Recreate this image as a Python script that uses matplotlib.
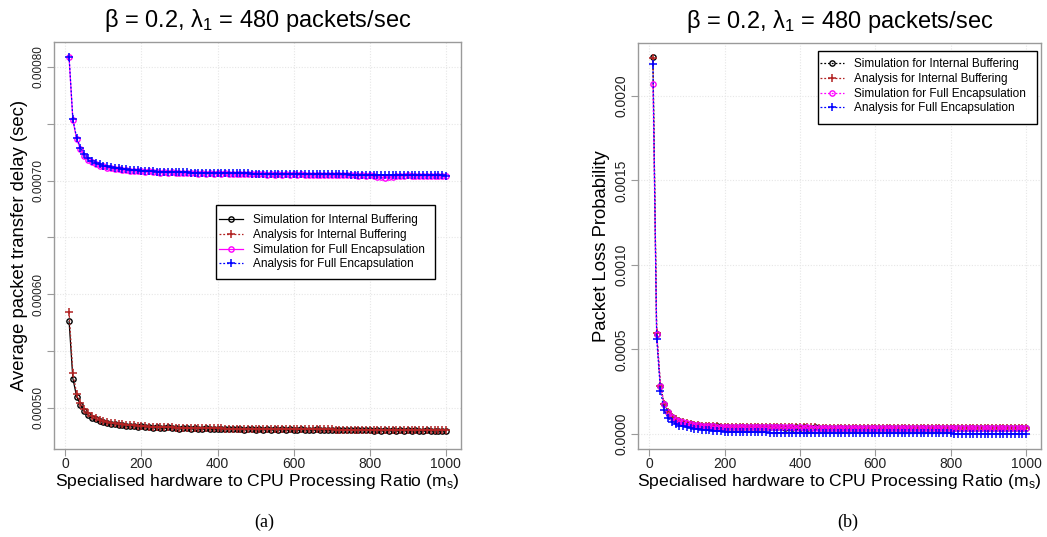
import numpy as np
import matplotlib
matplotlib.use("Agg")
import matplotlib.pyplot as plt
from matplotlib.ticker import FixedLocator, FuncFormatter
from matplotlib.patches import Rectangle

plt.rcParams['font.family'] = ['Liberation Sans', 'DejaVu Sans']
plt.rcParams['mathtext.fontset'] = 'custom'
plt.rcParams['mathtext.rm'] = 'Liberation Sans'
plt.rcParams['mathtext.it'] = 'Liberation Sans'

# ---------------- data ----------------
ratio = np.arange(10, 1001, 10)

title_text = "β = 0.2, $\\mathregular{λ_1}$ = 480 packets/sec"
xlabel_text = "Specialised hardware to CPU Processing Ratio ($\\mathregular{m_s}$)"
series_labels = ["Simulation for Internal Buffering", "Analysis for Internal Buffering",
                 "Simulation for Full Encapsulation", "Analysis for Full Encapsulation"]

# Panel (a): average packet transfer delay, microseconds
delay_sim_ib = [
    576.0, 525.5, 509.5, 502.5, 497.0, 493.5, 491.0, 489.5, 488.0, 487.5,
    486.0, 485.5, 485.8, 484.5, 485.0, 483.5, 484.0, 483.8, 483.0, 483.5,
    482.8, 483.2, 482.0, 482.9, 482.3, 481.8, 482.6, 482.0, 482.4, 481.5,
    482.0, 481.6, 481.2, 481.9, 481.4, 481.0, 481.7, 481.3, 480.9, 481.5,
    481.0, 481.4, 480.7, 481.2, 480.9, 481.3, 480.6, 481.0, 480.8, 480.4,
    481.1, 480.6, 480.9, 480.3, 480.8, 480.5, 480.9, 480.2, 480.7, 480.5,
    480.2, 480.8, 480.4, 480.6, 480.1, 480.7, 480.3, 480.5, 480.0, 480.6,
    480.4, 480.0, 480.5, 480.2, 479.9, 480.4, 480.1, 480.3, 479.8, 480.2,
    479.6, 480.0, 479.5, 480.1, 479.7, 479.9, 479.4, 480.0, 479.6, 479.8,
    479.5, 479.9, 479.6, 479.3, 479.8, 479.5, 479.7, 479.4, 479.6, 479.5]
delay_ana_ib = [
    584.0, 530.5, 512.0, 504.0, 498.5, 495.0, 492.5, 490.5, 489.2, 488.2,
    487.4, 486.7, 486.1, 485.6, 485.2, 484.8, 484.5, 484.2, 483.9, 483.7,
    483.5, 483.3, 483.1, 483.0, 482.8, 482.7, 482.6, 482.5, 482.4, 482.3,
    482.2, 482.1, 482.0, 481.95, 481.9, 481.85, 481.8, 481.75, 481.7, 481.65,
    481.6, 481.55, 481.5, 481.45, 481.4, 481.4, 481.35, 481.3, 481.3, 481.25,
    481.2, 481.2, 481.15, 481.1, 481.1, 481.05, 481.0, 481.0, 480.95, 480.9,
    480.9, 480.9, 480.85, 480.8, 480.8, 480.8, 480.75, 480.7, 480.7, 480.7,
    480.65, 480.6, 480.6, 480.6, 480.55, 480.5, 480.5, 480.5, 480.5, 480.45,
    480.4, 480.4, 480.4, 480.4, 480.35, 480.3, 480.3, 480.3, 480.3, 480.25,
    480.2, 480.2, 480.2, 480.2, 480.15, 480.1, 480.1, 480.1, 480.1, 480.0]
delay_sim_fe = [
    808.5, 753.0, 736.5, 727.5, 722.0, 718.5, 716.0, 714.5, 713.0, 712.5,
    711.2, 711.0, 710.2, 709.9, 709.3, 709.2, 708.6, 708.7, 708.0, 708.3,
    707.6, 708.0, 707.3, 707.6, 707.0, 707.4, 706.8, 707.2, 706.6, 707.0,
    706.4, 706.9, 706.2, 706.7, 706.1, 706.6, 706.0, 706.5, 705.9, 706.3,
    705.8, 706.2, 705.6, 706.1, 705.5, 706.0, 705.4, 705.9, 705.3, 705.8,
    705.3, 705.7, 705.2, 705.6, 705.1, 705.5, 705.0, 705.4, 705.0, 705.3,
    704.9, 705.3, 704.8, 705.2, 704.8, 705.1, 704.7, 705.1, 704.7, 705.0,
    704.6, 705.0, 704.5, 704.9, 704.5, 704.8, 704.4, 704.7, 704.4, 704.6,
    704.0, 703.2, 702.8, 702.6, 702.9, 703.4, 704.0, 704.3, 704.2, 704.5,
    704.1, 704.4, 704.0, 704.3, 704.0, 704.2, 703.9, 704.2, 703.9, 704.1]
delay_ana_fe = [
    809.0, 754.0, 737.5, 729.0, 723.5, 720.0, 717.5, 715.6, 714.2, 713.2,
    712.4, 711.7, 711.1, 710.6, 710.2, 709.8, 709.5, 709.2, 708.9, 708.7,
    708.5, 708.3, 708.1, 707.9, 707.8, 707.7, 707.6, 707.5, 707.4, 707.3,
    707.2, 707.1, 707.0, 706.9, 706.9, 706.8, 706.7, 706.7, 706.6, 706.6,
    706.5, 706.5, 706.4, 706.4, 706.3, 706.3, 706.2, 706.2, 706.1, 706.1,
    706.0, 706.0, 706.0, 705.9, 705.9, 705.9, 705.8, 705.8, 705.8, 705.7,
    705.7, 705.7, 705.6, 705.6, 705.6, 705.5, 705.5, 705.5, 705.4, 705.4,
    705.4, 705.3, 705.3, 705.3, 705.2, 705.2, 705.2, 705.1, 705.1, 705.1,
    705.0, 705.0, 705.0, 704.9, 704.9, 704.9, 704.8, 704.8, 704.8, 704.7,
    704.7, 704.7, 704.6, 704.6, 704.6, 704.5, 704.5, 704.5, 704.5, 704.4]

# Panel (b): packet loss probability, units of 1e-4
loss_sim_ib = [
    22.30, 5.94, 2.82, 1.76, 1.29, 1.01, 0.85, 0.74, 0.67, 0.61,
    0.57, 0.55, 0.51, 0.50, 0.47, 0.47, 0.45, 0.45, 0.43, 0.44,
    0.43, 0.42, 0.42, 0.41, 0.42, 0.40, 0.41, 0.40, 0.41, 0.39,
    0.40, 0.39, 0.40, 0.39, 0.40, 0.38, 0.39, 0.38, 0.39, 0.38,
    0.39, 0.38, 0.38, 0.39, 0.37, 0.38, 0.38, 0.37, 0.38, 0.37,
    0.38, 0.37, 0.38, 0.37, 0.38, 0.37, 0.37, 0.38, 0.37, 0.36,
    0.37, 0.37, 0.36, 0.37, 0.37, 0.36, 0.37, 0.36, 0.37, 0.36,
    0.37, 0.36, 0.36, 0.37, 0.36, 0.36, 0.37, 0.36, 0.36, 0.35,
    0.36, 0.36, 0.35, 0.36, 0.36, 0.35, 0.36, 0.35, 0.36, 0.35,
    0.36, 0.35, 0.35, 0.36, 0.35, 0.35, 0.36, 0.35, 0.35, 0.35]
loss_ana_ib = [
    22.25, 5.95, 2.86, 1.78, 1.30, 1.02, 0.86, 0.75, 0.68, 0.62,
    0.58, 0.55, 0.52, 0.50, 0.48, 0.47, 0.46, 0.45, 0.44, 0.44,
    0.43, 0.43, 0.42, 0.42, 0.42, 0.41, 0.41, 0.41, 0.41, 0.40,
    0.40, 0.40, 0.40, 0.40, 0.40, 0.39, 0.39, 0.39, 0.39, 0.39,
    0.39, 0.39, 0.39, 0.39, 0.38, 0.38, 0.38, 0.38, 0.38, 0.38,
    0.38, 0.38, 0.38, 0.38, 0.38, 0.38, 0.38, 0.38, 0.38, 0.38,
    0.38, 0.38, 0.38, 0.38, 0.38, 0.37, 0.37, 0.37, 0.37, 0.37,
    0.37, 0.37, 0.37, 0.37, 0.37, 0.37, 0.37, 0.37, 0.37, 0.37,
    0.37, 0.37, 0.37, 0.37, 0.37, 0.37, 0.37, 0.37, 0.37, 0.37,
    0.37, 0.37, 0.37, 0.37, 0.37, 0.37, 0.37, 0.37, 0.37, 0.37]
loss_sim_fe = [
    20.70, 5.92, 2.83, 1.76, 1.28, 1.00, 0.85, 0.75, 0.68, 0.62,
    0.58, 0.54, 0.52, 0.49, 0.48, 0.46, 0.46, 0.44, 0.44, 0.43,
    0.43, 0.42, 0.42, 0.41, 0.41, 0.41, 0.40, 0.41, 0.40, 0.40,
    0.40, 0.40, 0.39, 0.40, 0.39, 0.39, 0.39, 0.39, 0.38, 0.39,
    0.38, 0.39, 0.38, 0.38, 0.38, 0.38, 0.38, 0.38, 0.37, 0.38,
    0.38, 0.37, 0.38, 0.37, 0.38, 0.37, 0.38, 0.37, 0.37, 0.37,
    0.37, 0.37, 0.37, 0.37, 0.36, 0.37, 0.37, 0.36, 0.37, 0.37,
    0.36, 0.37, 0.37, 0.36, 0.37, 0.36, 0.36, 0.37, 0.36, 0.36,
    0.36, 0.36, 0.36, 0.35, 0.36, 0.36, 0.35, 0.36, 0.36, 0.35,
    0.36, 0.35, 0.36, 0.35, 0.36, 0.35, 0.35, 0.36, 0.35, 0.35]
loss_ana_fe = [
    21.90, 5.60, 2.53, 1.42, 0.94, 0.70, 0.58, 0.50, 0.45, 0.40,
    0.36, 0.32, 0.29, 0.26, 0.23, 0.21, 0.19, 0.17, 0.15, 0.14,
    0.13, 0.12, 0.12, 0.11, 0.11, 0.10, 0.10, 0.10, 0.09, 0.09,
    0.09, 0.08, 0.08, 0.08, 0.08, 0.07, 0.07, 0.07, 0.07, 0.06,
    0.06, 0.06, 0.06, 0.06, 0.06, 0.05, 0.05, 0.05, 0.05, 0.05,
    0.05, 0.05, 0.05, 0.05, 0.05, 0.04, 0.04, 0.04, 0.04, 0.04,
    0.04, 0.04, 0.04, 0.04, 0.04, 0.03, 0.03, 0.03, 0.03, 0.03,
    0.03, 0.03, 0.03, 0.03, 0.03, 0.03, 0.03, 0.03, 0.03, 0.03,
    0.02, 0.02, 0.02, 0.02, 0.02, 0.02, 0.02, 0.02, 0.02, 0.02,
    0.02, 0.02, 0.02, 0.02, 0.02, 0.01, 0.01, 0.01, 0.01, 0.01]

delay_yticks = [0.00050, 0.00055, 0.00060, 0.00065, 0.00070, 0.00075, 0.00080]
loss_yticks = [0.0000, 0.0005, 0.0010, 0.0015, 0.0020]
xticks = [0, 200, 400, 600, 800, 1000]

# ---------------- styling ----------------
C_BLACK, C_RED, C_MAG, C_BLUE = "black", "#B22222", "#FF00FF", "#0000FF"
AX_GRAY = "#9a9a9a"
GRID_C = "#e6e6e6"

W, H = 1047, 537
fig = plt.figure(figsize=(W / 100, H / 100), dpi=100)


def box(l, t, r, b):
    return [l / W, 1 - b / H, (r - l) / W, (b - t) / H]


def style_axes(ax, xlim, ylim, yticks, yfmt, ysize, labeled):
    ax.set_xlim(*xlim)
    ax.set_ylim(*ylim)
    for s in ax.spines.values():
        s.set_color(AX_GRAY)
        s.set_linewidth(1.0)
    ax.xaxis.set_major_locator(FixedLocator(xticks))
    ax.yaxis.set_major_locator(FixedLocator(yticks))
    ax.yaxis.set_major_formatter(FuncFormatter(
        lambda v, p: (yfmt % v) if labeled(v) else ""))
    ax.tick_params(axis='both', colors=AX_GRAY, length=5, width=0.8,
                   labelcolor="#222222")
    ax.tick_params(axis='x', labelsize=10, pad=1)
    ax.tick_params(axis='y', labelsize=ysize, pad=2, labelrotation=90)
    for t in ax.get_yticklabels():
        t.set_va('center')
    ax.grid(True, color=GRID_C, linestyle=(0, (1, 1.5)), linewidth=0.8)
    ax.set_axisbelow(True)


def framed_legend(ax, handle_x, row_top, frame):
    leg = ax.legend(loc='upper left', bbox_to_anchor=(handle_x / W, 1 - row_top / H),
                    bbox_transform=fig.transFigure, fontsize=8.5, frameon=False,
                    handlelength=2.05, labelspacing=0.24, borderpad=0.0,
                    handletextpad=0.85, borderaxespad=0)
    l, t, r, b = frame
    rect = Rectangle((l / W, 1 - b / H), (r - l) / W, (b - t) / H,
                     transform=fig.transFigure, fill=True, facecolor='white',
                     edgecolor='black', linewidth=1.0, zorder=4, clip_on=False)
    ax.add_artist(rect)
    leg.set_zorder(6)
    return leg


ms_c, ms_p, lw = 3.8, 5.8, 0.9

# ---- Panel (a) ----
ax1 = fig.add_axes(box(54, 42, 461, 449))
y1 = np.array(delay_sim_ib) * 1e-6
y2 = np.array(delay_ana_ib) * 1e-6
y3 = np.array(delay_sim_fe) * 1e-6
y4 = np.array(delay_ana_fe) * 1e-6
ax1.plot(ratio, y1, color=C_BLACK, lw=lw, ls='-', marker='o', ms=ms_c, mfc='none', mew=1.0,
         label=series_labels[0])
ax1.plot(ratio, y2, color=C_RED, lw=lw, ls=(0, (1.5, 1.5)), marker='+', ms=ms_p, mew=1.1,
         label=series_labels[1])
ax1.plot(ratio, y3, color=C_MAG, lw=lw, ls='-', marker='o', ms=ms_c, mfc='none', mew=1.0,
         label=series_labels[2])
ax1.plot(ratio, y4, color=C_BLUE, lw=lw, ls=(0, (1.5, 1.5)), marker='+', ms=ms_p, mew=1.1,
         label=series_labels[3])
style_axes(ax1, (-29.6, 1039.6), (0.0004635, 0.000822), delay_yticks, "%.5f", 8.5,
           lambda v: abs(round(v * 1e4) - v * 1e4) < 1e-6)
ax1.set_ylabel("Average packet transfer delay (sec)", fontsize=13.3, labelpad=3)
ax1.set_xlabel(xlabel_text, fontsize=12.6, labelpad=0.5)
ax1.set_title(title_text, fontsize=17, pad=11)
framed_legend(ax1, 219, 214, (216, 205, 435, 279))

# ---- Panel (b) ----
ax2 = fig.add_axes(box(638, 43, 1041, 449))
z1 = np.array(loss_sim_ib) * 1e-4
z2 = np.array(loss_ana_ib) * 1e-4
z3 = np.array(loss_sim_fe) * 1e-4
z4 = np.array(loss_ana_fe) * 1e-4
dot = (0, (1.5, 1.5))
ax2.plot(ratio, z1, color=C_BLACK, lw=lw, ls=dot, marker='o', ms=ms_c, mfc='none', mew=1.0,
         label=series_labels[0])
ax2.plot(ratio, z2, color=C_RED, lw=lw, ls=dot, marker='+', ms=ms_p, mew=1.1,
         label=series_labels[1])
ax2.plot(ratio, z3, color=C_MAG, lw=lw, ls=dot, marker='o', ms=ms_c, mfc='none', mew=1.0,
         label=series_labels[2])
ax2.plot(ratio, z4, color=C_BLUE, lw=lw, ls=dot, marker='+', ms=ms_p, mew=1.1,
         label=series_labels[3])
style_axes(ax2, (-29.6, 1039.6), (-0.0000888, 0.002312), loss_yticks, "%.4f", 10,
           lambda v: True)
ax2.set_ylabel("Packet Loss Probability", fontsize=13.3, labelpad=3)
ax2.set_xlabel(xlabel_text, fontsize=12.6, labelpad=0.5)
ax2.set_title(title_text, fontsize=17, pad=11)
framed_legend(ax2, 820, 58, (818, 51, 1037, 124))

# sub-captions
fig.text(264 / W, 1 - 522 / H, "(a)", ha='center', va='center', fontsize=13,
         family=['Liberation Serif', 'DejaVu Serif'])
fig.text(848 / W, 1 - 522 / H, "(b)", ha='center', va='center', fontsize=13,
         family=['Liberation Serif', 'DejaVu Serif'])

fig.savefig("out.png", dpi=100)
